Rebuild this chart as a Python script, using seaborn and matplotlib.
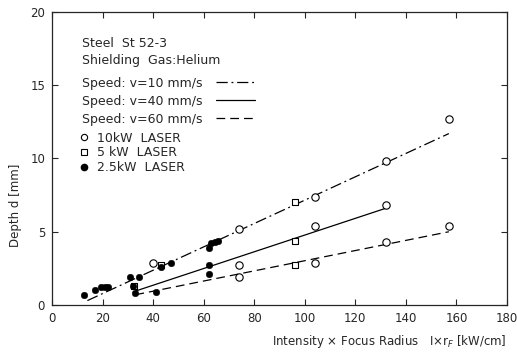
import numpy as np
import pandas as pd
import matplotlib
matplotlib.use("Agg")
import matplotlib.pyplot as plt
import seaborn as sns
from matplotlib.lines import Line2D

sns.set_style("ticks")
plt.rcParams['font.family'] = ['DejaVu Sans']

# --------------------------
# DATA
# --------------------------
laser10_x = [40, 74, 74, 74, 104, 104, 104, 132, 132, 132, 157, 157]
laser10_y = [2.9, 5.2, 2.7, 1.9, 7.4, 5.4, 2.9, 9.8, 6.8, 4.3, 12.7, 5.4]

laser5_x = [32.5, 43, 96, 96, 96]
laser5_y = [1.3, 2.7, 7.0, 4.4, 2.7]

laser25_x = [12.5, 17, 19.5, 21, 22, 31, 34.5, 32, 33, 41, 43, 47, 62, 63, 64.5, 65.5, 62, 62]
laser25_y = [0.7, 1.0, 1.2, 1.2, 1.2, 1.9, 1.9, 1.3, 0.8, 0.9, 2.6, 2.9, 3.9, 4.2, 4.3, 4.4, 2.7, 2.1]

# fitted lines, start and end
v10_x = [14, 157]
v10_y = [0.3, 11.7]
v40_x = [33, 132]
v40_y = [0.95, 6.6]
v60_x = [33, 157]
v60_y = [0.7, 5.0]

speed_labels = ["Speed: v=10 mm/s", "Speed: v=40 mm/s", "Speed: v=60 mm/s"]
laser_labels = ["10kW  LASER", "5 kW  LASER", "2.5kW  LASER"]

dashdot = (0, (9, 3, 1.5, 3))
dashed = (0, (7, 4))

# --------------------------
# PLOT
# --------------------------
fig = plt.figure(figsize=(5.17, 3.59), dpi=100)
ax = fig.add_axes([0.1006, 0.1504, 0.88, 0.8162])

sns.lineplot(x=v10_x, y=v10_y, ax=ax, color='black', linewidth=0.9, linestyle=dashdot)
sns.lineplot(x=v40_x, y=v40_y, ax=ax, color='black', linewidth=0.9)
sns.lineplot(x=v60_x, y=v60_y, ax=ax, color='black', linewidth=0.9, linestyle=dashed)

sns.scatterplot(x=laser10_x, y=laser10_y, ax=ax, marker='o', s=28,
                facecolor='white', edgecolor='black', linewidth=0.8, zorder=3)
sns.scatterplot(x=laser5_x, y=laser5_y, ax=ax, marker='s', s=24,
                facecolor='white', edgecolor='black', linewidth=0.8, zorder=3)
sns.scatterplot(x=laser25_x, y=laser25_y, ax=ax, marker='o', s=22,
                color='black', edgecolor='black', zorder=3)

ax.set_xlim(0, 180)
ax.set_ylim(0, 20)
ax.set_xticks(np.arange(0, 181, 20))
ax.set_yticks(np.arange(0, 21, 5))
ax.tick_params(direction='in', length=4, width=0.8, labelsize=8.5,
               top=True, right=True, pad=5)
for s in ax.spines.values():
    s.set_linewidth(0.9)
    s.set_visible(True)

ax.set_xlabel("Intensity × Focus Radius   I×r$_F$ [kW/cm]", fontsize=8.5,
              labelpad=6, loc='right')
ax.set_ylabel("Depth d [mm]", fontsize=8.5)
ax.yaxis.set_label_coords(-0.065, 0.34)

# header text
ax.text(0.066, 0.894, "Steel  St 52-3", transform=ax.transAxes, fontsize=9, va='center')
ax.text(0.066, 0.833, "Shielding  Gas:Helium", transform=ax.transAxes, fontsize=9, va='center')

# speed legend (line sample after the text)
speed_handles = [
    Line2D([], [], color='black', linewidth=0.9, linestyle=dashdot),
    Line2D([], [], color='black', linewidth=0.9),
    Line2D([], [], color='black', linewidth=0.9, linestyle=dashed),
]
leg1 = ax.legend(speed_handles, speed_labels, loc='upper left',
                 bbox_to_anchor=(0.066, 0.779), markerfirst=False, frameon=False,
                 fontsize=9, handlelength=3.1, handletextpad=1.1,
                 labelspacing=0.4, borderpad=0, borderaxespad=0)
ax.add_artist(leg1)

laser_handles = [
    Line2D([], [], marker='o', linestyle='none', markersize=4.5,
           markerfacecolor='white', markeredgecolor='black', markeredgewidth=0.8),
    Line2D([], [], marker='s', linestyle='none', markersize=4,
           markerfacecolor='white', markeredgecolor='black', markeredgewidth=0.8),
    Line2D([], [], marker='o', linestyle='none', markersize=4.5,
           markerfacecolor='black', markeredgecolor='black'),
]
ax.legend(laser_handles, laser_labels, loc='upper left',
          bbox_to_anchor=(0.06, 0.592), frameon=False, fontsize=9,
          handlelength=0.8, handletextpad=0.6, labelspacing=0.15,
          borderpad=0, borderaxespad=0)

fig.savefig("out.png", dpi=100)
